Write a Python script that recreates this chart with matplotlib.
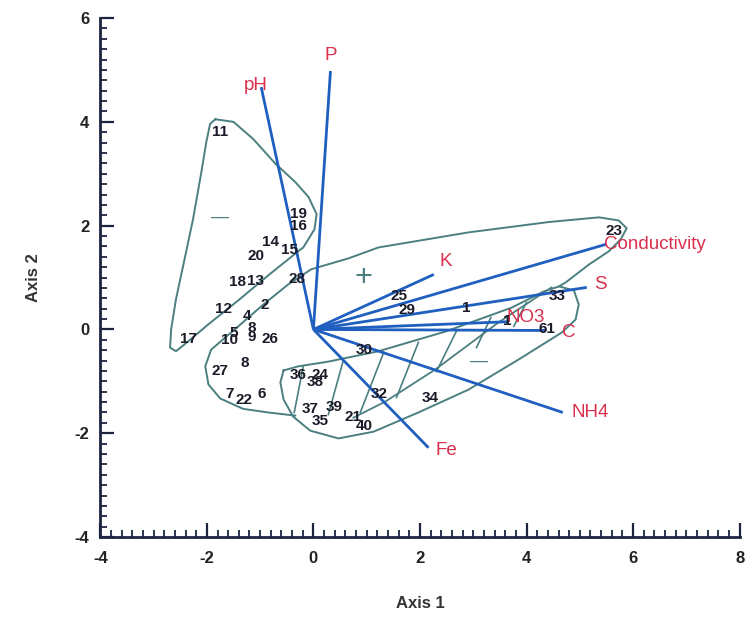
import matplotlib
matplotlib.use("Agg")
import matplotlib.pyplot as plt
from matplotlib.ticker import MultipleLocator

plt.rcParams['font.family'] = ['Liberation Sans', 'DejaVu Sans']
plt.rcParams['axes.unicode_minus'] = False

# site scores (axis 1, axis 2)
site_labels = ['11', '19', '16', '14', '15', '20', '18', '13', '28', '12', '2', '4',
               '17', '5', '10', '8', '9', '26', '8', '27', '7', '22', '6', '36', '24',
               '38', '30', '25', '29', '1', '1', '33', '61', '23', '32', '34', '37',
               '39', '35', '21', '40']
site_x = [-1.75, -0.28, -0.28, -0.81, -0.45, -1.07, -1.43, -1.09, -0.30, -1.69, -0.92, -1.24,
          -2.35, -1.50, -1.58, -1.15, -1.15, -0.81, -1.28, -1.75, -1.58, -1.30, -0.98, -0.28, 0.13,
          0.04, 0.96, 1.60, 1.75, 2.86, 3.63, 4.57, 4.38, 5.64, 1.24, 2.20, -0.06,
          0.39, 0.13, 0.75, 0.96]
site_y = [3.80, 2.22, 1.99, 1.68, 1.53, 1.41, 0.91, 0.93, 0.98, 0.39, 0.48, 0.25,
          -0.19, -0.06, -0.21, 0.02, -0.15, -0.19, -0.64, -0.81, -1.24, -1.35, -1.25, -0.87, -0.87,
          -1.02, -0.39, 0.64, 0.37, 0.42, 0.17, 0.64, 0.00, 1.89, -1.25, -1.33, -1.53,
          -1.49, -1.76, -1.68, -1.87]

# environmental vectors
var_names = ['pH', 'P', 'K', 'Conductivity', 'S', 'NO3', 'C', 'NH4', 'Fe']
var_x = [-0.98, 0.32, 2.26, 5.49, 5.13, 3.67, 4.36, 4.68, 2.16]
var_y = [4.67, 4.98, 1.06, 1.64, 0.81, 0.15, -0.02, -1.60, -2.28]
label_offsets = [(-4, 1, 'center'), (0, 11, 'center'), (4, 9, 'left'), (-1.5, 0, 'left'),
                 (5, 2, 'left'), (-1.5, 3, 'left'), (12, -1.5, 'left'), (6, 0, 'left'),
                 (5, -2, 'left')]

# hand drawn group outlines
group_a_x = [-1.84, -1.50, -1.13, -0.71, -0.34, -0.09, 0.06, 0.02, -0.19, -0.28, -0.85, -1.41,
             -1.97, -2.35, -2.58, -2.69, -2.67, -2.58, -2.44, -2.26, -2.11, -2.01, -1.94, -1.84]
group_a_y = [4.05, 4.00, 3.67, 3.19, 2.84, 2.55, 2.22, 1.93, 1.58, 1.51, 1.04, 0.56,
             0.10, -0.23, -0.42, -0.35, 0.00, 0.58, 1.25, 2.12, 2.99, 3.61, 3.96, 4.05]

group_b_x = [-0.34, -0.85, -1.32, -1.75, -1.97, -2.03, -1.92, -1.41, -0.94, -0.47, -0.04, 0.66,
             1.22, 2.91, 4.42, 5.36, 5.73, 5.88, 5.77, 5.55, 5.17, 4.74, 4.61]
group_b_y = [-1.66, -1.60, -1.53, -1.33, -1.06, -0.71, -0.39, 0.06, 0.48, 0.87, 1.16, 1.37,
             1.58, 1.87, 2.07, 2.16, 2.10, 1.95, 1.74, 1.51, 1.25, 0.91, 0.83]

group_c_x = [-0.56, -0.28, 0.28, 1.22, 2.48, 3.72, 4.32, 4.61, 4.89, 4.98, 4.92, 4.66, 3.85,
             2.91, 1.97, 1.13, 0.47, -0.06, -0.38, -0.56, -0.62, -0.56]
group_c_y = [-0.79, -0.71, -0.62, -0.42, -0.04, 0.42, 0.73, 0.83, 0.75, 0.48, 0.19, -0.06, -0.58,
             -1.16, -1.60, -1.97, -2.10, -1.95, -1.68, -1.35, -1.02, -0.79]

inner_x = [4.47, 3.48, 2.29, 1.35, 0.75]
inner_y = [0.81, 0.14, -0.77, -1.39, -1.70]

hatch_x0 = [-0.19, 0.56, 1.32, 1.97, 2.69, 3.33, 4.00]
hatch_y0 = [-0.71, -0.60, -0.44, -0.25, -0.02, 0.23, 0.52]
hatch_x1 = [-0.36, 0.28, 0.88, 1.56, 2.31, 3.06, 3.76]
hatch_y1 = [-1.60, -1.64, -1.60, -1.31, -0.81, -0.35, 0.06]

sign_text = ['+', '\u2014', '\u2014']
sign_x = [0.94, -1.75, 3.10]
sign_y = [1.00, 2.16, -0.62]

outline_col = '#4b7f80'
vec_col = '#1f5fc0'
lab_col = '#d9304c'
axis_col = '#1c2440'

fig = plt.figure(figsize=(7.54, 6.23), dpi=100)
ax = fig.add_axes([0.133, 0.138, 0.848, 0.833])

ax.plot(group_a_x, group_a_y, color=outline_col, lw=1.4)
ax.plot(group_b_x, group_b_y, color=outline_col, lw=1.4)
ax.plot(group_c_x, group_c_y, color=outline_col, lw=1.4)
ax.plot(inner_x, inner_y, color=outline_col, lw=1.3)
for x0, y0, x1, y1 in zip(hatch_x0, hatch_y0, hatch_x1, hatch_y1):
    ax.plot([x0, x1], [y0, y1], color=outline_col, lw=1.2)

for t, x, y in zip(sign_text, sign_x, sign_y):
    if t == '+':
        ax.text(x, y, t, color=outline_col, fontsize=22, ha='center', va='center')
    else:
        ax.text(x, y, t, color=outline_col, fontsize=13, ha='center', va='center')

for name, x, y, (dx, dy, ha) in zip(var_names, var_x, var_y, label_offsets):
    ax.plot([0, x], [0, y], color=vec_col, lw=2.0, solid_capstyle='butt')
    ax.annotate(name, (x, y), xytext=(dx, dy), textcoords='offset points',
                ha=ha, va='center', color=lab_col, fontsize=13.5)

for lab, x, y in zip(site_labels, site_x, site_y):
    ax.text(x, y, lab, ha='center', va='center', fontsize=11, fontweight='bold',
            color='#1a1a28')

ax.set_xlim(-4, 8)
ax.set_ylim(-4, 6)
ax.xaxis.set_major_locator(MultipleLocator(2))
ax.xaxis.set_minor_locator(MultipleLocator(0.2))
ax.yaxis.set_major_locator(MultipleLocator(2))
ax.yaxis.set_minor_locator(MultipleLocator(0.2))
ax.tick_params(which='major', direction='in', length=10, width=1.6, color=axis_col,
               labelsize=12, pad=10)
ax.tick_params(axis='y', which='major', pad=8)
ax.tick_params(which='minor', direction='in', length=5, width=1.3, color=axis_col)
for lbl in ax.get_xticklabels() + ax.get_yticklabels():
    lbl.set_fontweight('bold')
    lbl.set_color('#222222')

for side in ['top', 'right']:
    ax.spines[side].set_visible(False)
for side in ['left', 'bottom']:
    ax.spines[side].set_linewidth(2)
    ax.spines[side].set_color(axis_col)

ax.set_xlabel('Axis 1', fontsize=12, fontweight='bold', color='#333333', labelpad=22)
ax.set_ylabel('Axis 2', fontsize=12, fontweight='bold', color='#333333', labelpad=24)

fig.savefig('out.png', dpi=100)
